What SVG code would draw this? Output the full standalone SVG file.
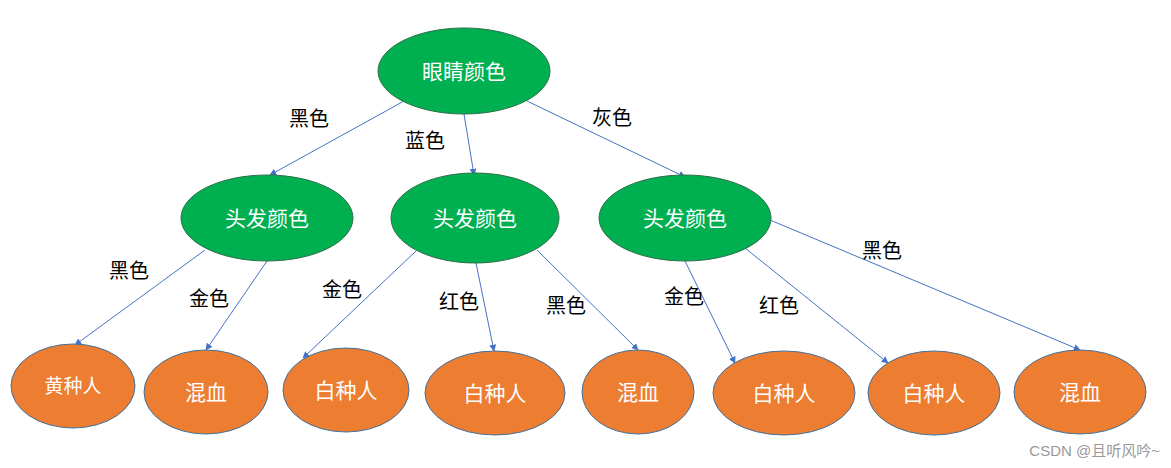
<svg xmlns="http://www.w3.org/2000/svg" width="1171" height="468" viewBox="0 0 1171 468">
<style>
.g{fill:#00B050;stroke:#2F6E4A;stroke-width:1}
.o{fill:#ED7D31;stroke:#41719C;stroke-width:1}
.t{font-family:"Liberation Sans","Noto Sans CJK SC",sans-serif;font-size:21px;fill:#fff;text-anchor:middle;dominant-baseline:central}
.l{font-family:"Liberation Sans","Noto Sans CJK SC",sans-serif;font-size:20px;fill:#000;text-anchor:middle;dominant-baseline:central}
.e{stroke:#4472C4;stroke-width:1;fill:none;marker-end:url(#a)}
</style>
<defs><marker id="a" viewBox="0 0 10 10" refX="9" refY="5" markerWidth="7" markerHeight="7" orient="auto"><path d="M0,0L10,5L0,10z" fill="#4472C4"/></marker></defs>
<rect width="1171" height="468" fill="#fff"/>
<g id="edges">
<line class="e" x1="404" y1="101" x2="270" y2="175"/>
<line class="e" x1="464" y1="114" x2="474" y2="175"/>
<line class="e" x1="527" y1="101" x2="685" y2="177"/>
<line class="e" x1="205" y1="250" x2="75" y2="345"/>
<line class="e" x1="267" y1="261" x2="206" y2="350"/>
<line class="e" x1="416" y1="251" x2="303" y2="358"/>
<line class="e" x1="476" y1="263" x2="494" y2="351"/>
<line class="e" x1="537" y1="250" x2="638" y2="350"/>
<line class="e" x1="685" y1="261" x2="735" y2="363"/>
<line class="e" x1="745" y1="248" x2="888" y2="363"/>
<line class="e" x1="770" y1="220" x2="1080" y2="350"/>
</g>
<g id="labels">
<text class="l" x="309" y="119">黑色</text>
<text class="l" x="425" y="141">蓝色</text>
<text class="l" x="612" y="118">灰色</text>
<text class="l" x="129" y="271">黑色</text>
<text class="l" x="209" y="299">金色</text>
<text class="l" x="342" y="290">金色</text>
<text class="l" x="459" y="302">红色</text>
<text class="l" x="566" y="306">黑色</text>
<text class="l" x="684" y="297">金色</text>
<text class="l" x="779" y="306">红色</text>
<text class="l" x="882" y="251">黑色</text>
</g>
<g id="root"><ellipse class="g" cx="464" cy="71" rx="86" ry="43"/><text class="t" x="464" y="71">眼睛颜色</text></g>
<g id="h1"><ellipse class="g" cx="267" cy="218" rx="86" ry="43"/><text class="t" x="267" y="218">头发颜色</text></g>
<g id="h2"><ellipse class="g" cx="475" cy="218" rx="84" ry="45"/><text class="t" x="475" y="218">头发颜色</text></g>
<g id="h3"><ellipse class="g" cx="685" cy="218" rx="86" ry="43"/><text class="t" x="685" y="218">头发颜色</text></g>
<g id="n1"><ellipse class="o" cx="73" cy="386" rx="62" ry="42"/><text class="t" x="73" y="386" style="font-size:19px">黄种人</text></g>
<g id="n2"><ellipse class="o" cx="206" cy="392" rx="62" ry="42"/><text class="t" x="206" y="392">混血</text></g>
<g id="n3"><ellipse class="o" cx="346" cy="390" rx="63" ry="42"/><text class="t" x="346" y="390">白种人</text></g>
<g id="n4"><ellipse class="o" cx="495" cy="393" rx="70" ry="42"/><text class="t" x="495" y="393">白种人</text></g>
<g id="n5"><ellipse class="o" cx="638" cy="392" rx="56" ry="42"/><text class="t" x="638" y="392">混血</text></g>
<g id="n6"><ellipse class="o" cx="784" cy="393" rx="71" ry="42"/><text class="t" x="784" y="393">白种人</text></g>
<g id="n7"><ellipse class="o" cx="934" cy="393" rx="66" ry="42"/><text class="t" x="934" y="393">白种人</text></g>
<g id="n8"><ellipse class="o" cx="1080" cy="392" rx="66" ry="42"/><text class="t" x="1080" y="392">混血</text></g>
<text x="1160" y="450" style="font-family:'Liberation Sans','Noto Sans CJK SC',sans-serif;font-size:15px;fill:#999;text-anchor:end;dominant-baseline:central">CSDN @且听风吟~</text>
</svg>
